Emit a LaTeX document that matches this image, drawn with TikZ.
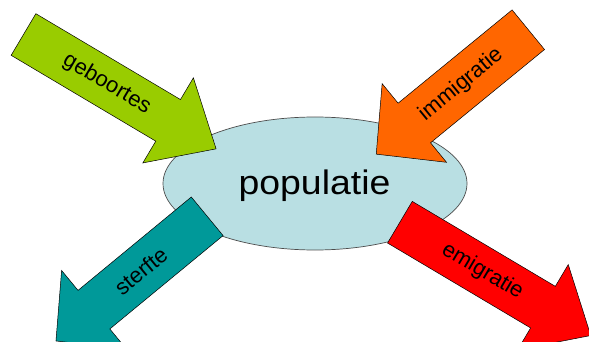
\documentclass[tikz,border=0pt]{standalone}
\usepackage{fontspec}
\setmainfont{Liberation Sans}
\definecolor{groen}{HTML}{99CC00}
\definecolor{oranje}{HTML}{FF6600}
\definecolor{blauwgroen}{HTML}{009999}
\definecolor{rood}{HTML}{FF0000}
\definecolor{lichtblauw}{HTML}{B9DFE3}
\begin{document}
\begin{tikzpicture}[x=1pt,y=-1pt,
    pijl/.style={draw=black,line width=0.5pt,line join=miter},
    pijltekst/.style={font=\fontsize{22}{22}\selectfont}]
    \useasboundingbox (0,0) rectangle (589,342);

    % 椭圆
    \draw[draw=black!70, fill=lichtblauw, line width=0.7pt] (315,183.5) ellipse [x radius=152, y radius=66.5];
    \node (pop) at (314.5,186) {\fontsize{34}{34}\selectfont\scalebox{1.1}[1]{populatie}};

    % 箭头 geboortes
    \begin{scope}[shift={(23.5,34.5)}, rotate=-30.7]
        \fill[groen, pijl] (0,24.2) -- (168.2,24.2) -- (168.2,49.5) -- (224,0) -- (168.2,-49.5) -- (168.2,-24.2) -- (0,-24.2) -- cycle;
        \node[pijltekst, rotate=-30.7] (geb) at (97,0) {geboortes};
    \end{scope}

    % 箭头 immigratie
    \begin{scope}[shift={(528.3,29.7)}, rotate=-140.7]
        \fill[oranje, pijl] (0,25.6) -- (147.3,25.6) -- (147.3,50.8) -- (196.5,0) -- (147.3,-50.8) -- (147.3,-25.6) -- (0,-25.6) -- cycle;
        \node[pijltekst, rotate=39.3] (imm) at (87,0) {immigratie};
    \end{scope}

    % 箭头 sterfte
    \begin{scope}[shift={(207.2,216.3)}, rotate=-140.5]
        \fill[blauwgroen, pijl] (0,25) -- (146.8,25) -- (146.8,50.8) -- (196,0) -- (146.8,-50.8) -- (146.8,-25) -- (0,-25) -- cycle;
        \node[pijltekst, rotate=39.5] (sterf) at (86,0) {sterfte};
    \end{scope}

    % 箭头 emigratie
    \begin{scope}[shift={(399.9,222.2)}, rotate=-30.7]
        \fill[rood, pijl] (0,24.2) -- (166.4,24.2) -- (166.4,49.5) -- (222,0) -- (166.4,-49.5) -- (166.4,-24.2) -- (0,-24.2) -- cycle;
        \node[pijltekst, rotate=-30.7] (emi) at (96,0) {emigratie};
    \end{scope}
\end{tikzpicture}
\end{document}
